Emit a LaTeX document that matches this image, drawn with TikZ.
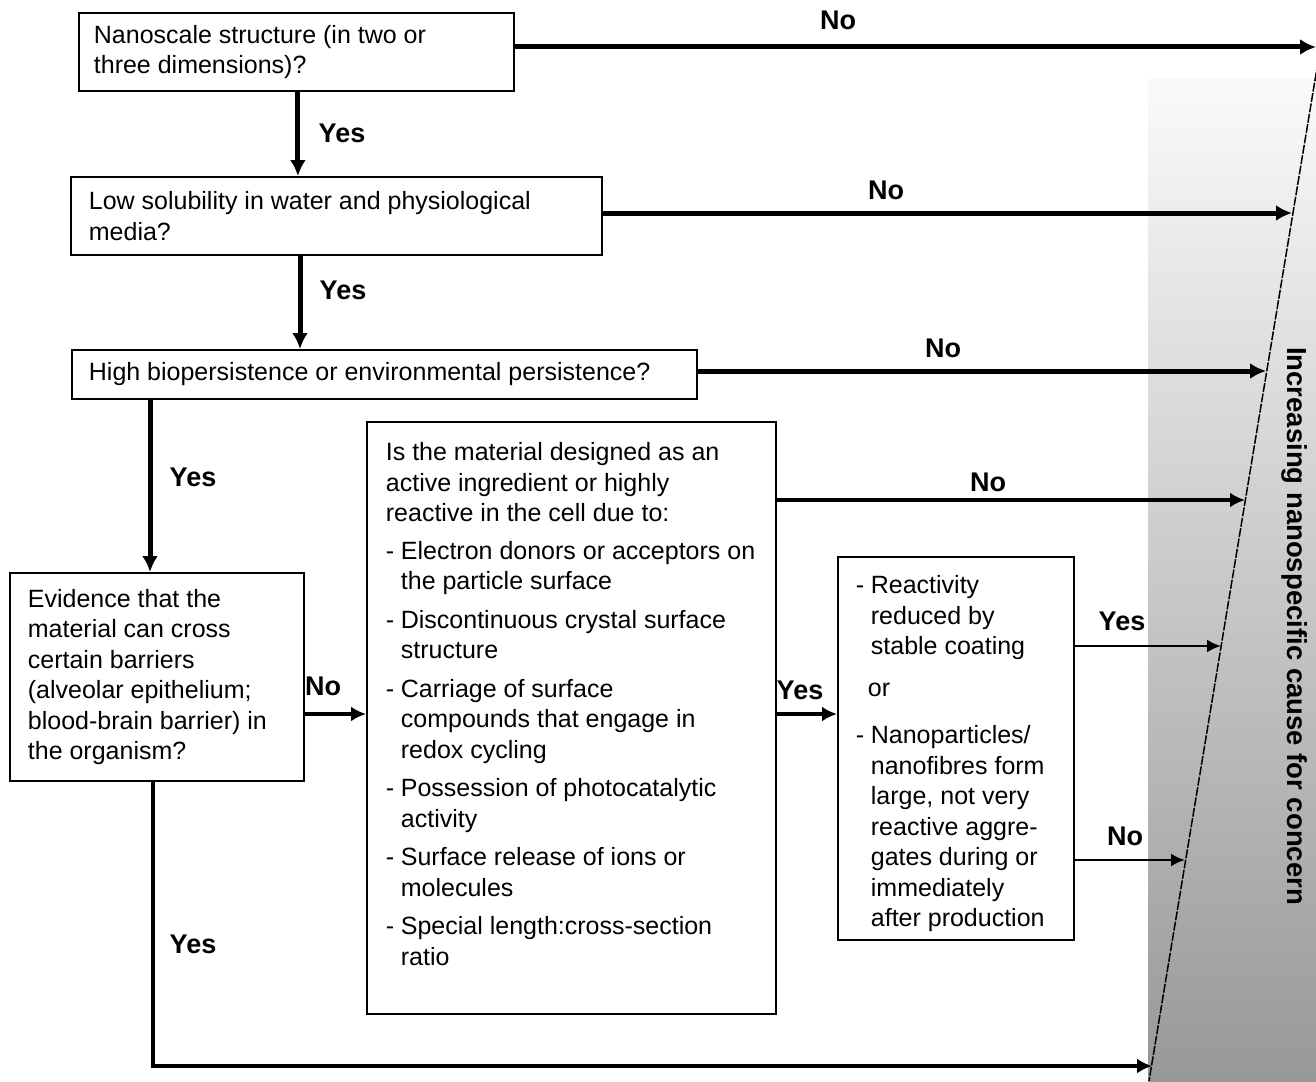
\documentclass[tikz,border=0pt]{standalone}
\usepackage{fontspec}
\setmainfont{Liberation Sans}
\usetikzlibrary{arrows.meta}
\definecolor{gtop}{RGB}{250,250,250}
\definecolor{gbot}{RGB}{152,152,152}
\newcommand\bdash{\makebox[15pt][l]{-}}
\newcommand\bind{\hspace*{15pt}}
% xpad, width, height, inner pos, text
\newcommand\btext[5]{\hspace*{#1}\parbox[c][#3][#4]{\dimexpr#2-#1\relax}{\raggedright #5}}
\begin{document}
\begin{tikzpicture}[x=1pt,y=-1pt,
  box/.style={draw, line width=1.8pt, inner sep=0pt, anchor=north west, fill=white,
    font=\fontsize{25}{30.5}\selectfont},
  lbl/.style={font=\bfseries\fontsize{27}{30}\selectfont, inner sep=0pt},
  bigarrow/.style={line width=5pt, -{Latex[length=16pt,width=16pt]}},
  midarrow/.style={line width=4pt, -{Latex[length=15pt,width=15pt]}},
  thinarrow/.style={line width=2.5pt, -{Latex[length=14pt,width=13pt]}}]
\useasboundingbox (0,0) rectangle (1316,1081);
% shaded band
\shade[top color=gtop, bottom color=gbot] (1148,78) rectangle (1316,1081);
\coordinate (stop) at (1318,62);
\coordinate (sbot) at (1149,1081);
\draw[line width=1.5pt, dash pattern=on 9pt off 1.5pt] (stop) -- (sbot);
\node[font=\bfseries\fontsize{27.5}{30}\selectfont, rotate=-90, inner sep=0pt] (side) at (1295,626) {Increasing nanospecific cause for concern};

% boxes
\node[box] (b1) at (78,12) {\btext{15pt}{435pt}{78pt}{c}{Nanoscale structure (in two or\\three dimensions)?}};
\node[box] (b2) at (70,176) {\btext{18pt}{531pt}{78pt}{c}{Low solubility in water and physiological\\media?}};
\node[box] (b3) at (71,349) {\btext{17pt}{625pt}{49pt}{c}{High biopersistence or environmental persistence?}};
\node[box] (b4) at (9,572) {\btext{18pt}{294pt}{208pt}{c}{Evidence that the\\material can cross\\certain barriers\\(alveolar epithelium;\\blood-brain barrier) in\\the organism?}};
\node[box] (b5) at (366,421) {\btext{19pt}{409pt}{592pt}{t}{\vspace*{17.6pt}\strut Is the material designed as an\\
active ingredient or highly\\
reactive in the cell due to:\\[7pt]
\bdash Electron donors or acceptors on\\
\bind the particle surface\\[8pt]
\bdash Discontinuous crystal surface\\
\bind structure\\[8pt]
\bdash Carriage of surface\\
\bind compounds that engage in\\
\bind redox cycling\\[8pt]
\bdash Possession of photocatalytic\\
\bind activity\\[8pt]
\bdash Surface release of ions or\\
\bind molecules\\[8pt]
\bdash Special length:cross-section\\
\bind ratio}};
\node[box] (b6) at (837,556) {\btext{18pt}{236pt}{383pt}{t}{\vspace*{15.6pt}\strut\bdash Reactivity\\
\bind reduced by\\
\bind stable coating\\[11pt]
\hspace*{12pt}or\\[17pt]
\bdash Nanoparticles/\\
\bind nanofibres form\\
\bind large, not very\\
\bind reactive aggre-\\
\bind gates during or\\
\bind immediately\\
\bind after production}};

% end points on the slanted line
\coordinate (e1) at (1316,47);
\coordinate (e2) at (1292,213);
\coordinate (e3) at (1266,371);
\coordinate (e4) at (1245,500);
\coordinate (e5) at (1221,646);
\coordinate (e6) at (1185,860);
\coordinate (e7) at (1152,1066);
\coordinate (ym) at (330,714);

% connectors
\draw[bigarrow] (b1.east |- e1) -- (e1);
\draw[bigarrow] (b2.east |- e2) -- (e2);
\draw[bigarrow] (b3.east |- e3) -- (e3);
\draw[midarrow] (b5.east |- e4) -- (e4);
\draw[thinarrow] (b6.east |- e5) -- (e5);
\draw[thinarrow] (b6.east |- e6) -- (e6);
\draw[bigarrow] ([xshift=1.5pt]b1.south) -- ([xshift=1.5pt]b1.south |- b2.north);
\draw[bigarrow] ([xshift=230pt]b2.south west) -- ([xshift=230pt]b2.south west |- b3.north);
\draw[bigarrow] ([xshift=79pt]b3.south west) -- ([xshift=79pt]b3.south west |- b4.north);
\draw[midarrow] (b4.east |- ym) -- (b5.west |- ym);
\draw[midarrow, line width=3.2pt] (b5.east |- ym) -- (b6.west |- ym);
\draw[midarrow, line width=3.5pt] ([xshift=-4pt]b4.south) |- (e7);

% labels
\node[lbl] (l1) at (838,20) {No};
\node[lbl] (l2) at (342,133) {Yes};
\node[lbl] (l3) at (886,190) {No};
\node[lbl] (l4) at (343,290) {Yes};
\node[lbl] (l5) at (943,348) {No};
\node[lbl] (l6) at (193,477) {Yes};
\node[lbl] (l7) at (988,482) {No};
\node[lbl] (l8) at (323,686) {No};
\node[lbl] (l9) at (800,690) {Yes};
\node[lbl] (l10) at (1122,621) {Yes};
\node[lbl] (l11) at (1125,836) {No};
\node[lbl] (l12) at (193,944) {Yes};
\end{tikzpicture}
\end{document}
